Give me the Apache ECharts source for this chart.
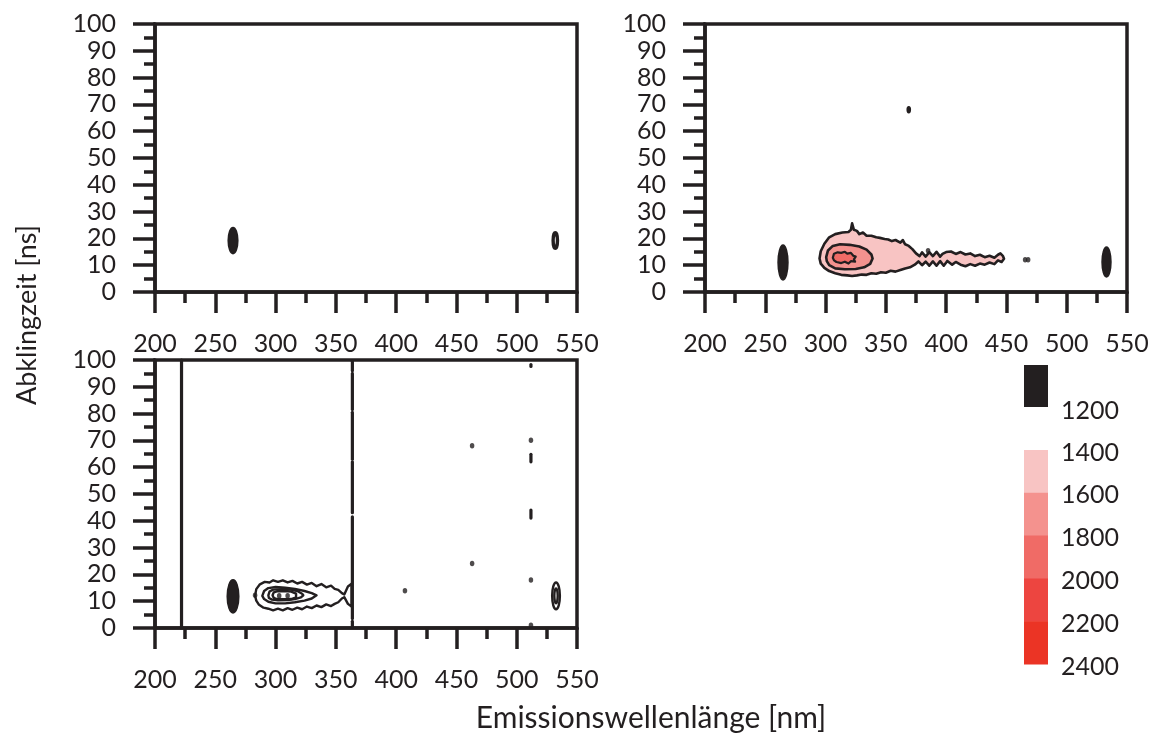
<!DOCTYPE html>
<html>
<head>
<meta charset="utf-8">
<script src="https://cdn.jsdelivr.net/npm/echarts@6/dist/echarts.min.js"></script>
<style>
  html, body { margin: 0; padding: 0; background: #ffffff; }
  #chart { width: 1157px; height: 736px; }
</style>
</head>
<body>
<div id="chart"></div>
<script>
// ---- axes -------------------------------------------------------------
const wavelengthTicks = [200, 250, 300, 350, 400, 450, 500, 550];
const decayTicks = [0, 10, 20, 30, 40, 50, 60, 70, 80, 90, 100];

// ---- intensity levels shown in the key ---------------------------------
const levelLabels = [1200, 1400, 1600, 1800, 2000, 2200, 2400];
const levelColors = ['#231f20', '#f8c4c3', '#f4928e', '#f06b66', '#ed4540', '#eb3425'];

// ---- panel A (top left) ------------------------------------------------
// [wavelength nm, decay ns, half width nm, half height ns]
const spotsA = [[264.7, 19.2, 4.0, 4.9]];
const ringsA = [[532.0, 19.2, 1.8, 2.9]];

// ---- panel B (top right) -----------------------------------------------
const spotsB = [[264.7, 11.0, 4.1, 6.5], [533.0, 11.2, 3.7, 5.6], [369.0, 68.0, 1.3, 1.1]];
const dotsB = [[385.0, 15.4], [465.5, 12.0], [468.0, 12.0]];
// 1400 contour (outer band)
const bandB1400 = [
  [295, 12.5], [296, 15.2], [299, 18.0], [303, 20.4], [308, 21.6], [314, 22.2], [319, 22.4],
  [321, 23.2], [322, 25.6], [323.5, 23.2], [326, 22.8], [328, 21.6], [331, 22.2], [334, 21.0],
  [338, 21.0], [342, 20.4], [345, 20.2], [349, 19.8], [352, 19.6], [355, 19.0], [358, 19.4],
  [362, 18.4], [364, 19.4], [366, 17.8], [369, 17.2], [372, 16.0], [375, 14.4], [378, 13.4],
  [380, 14.8], [383, 13.2], [386, 14.9], [389, 13.4], [392, 15.0], [395, 13.2], [397, 14.2],
  [400, 14.9], [404, 15.1], [408, 14.2], [412, 14.9], [416, 14.0], [420, 14.4], [424, 13.4],
  [428, 13.9], [432, 13.0], [436, 13.5], [440, 12.8], [443, 13.9], [445, 14.4], [447, 13.5],
  [448, 12.4], [446, 11.2], [443, 11.8], [440, 10.4], [436, 11.0], [432, 10.2], [428, 10.6],
  [424, 9.8], [420, 10.4], [416, 9.6], [412, 10.2], [408, 11.2], [405, 10.2], [401, 11.6],
  [398, 9.8], [395, 11.5], [392, 9.8], [389, 11.4], [386, 9.8], [383, 11.3], [380, 10.0],
  [377, 11.4], [374, 10.2], [370, 9.2], [366, 8.8], [362, 8.2], [358, 7.6], [354, 7.9],
  [350, 7.2], [346, 7.4], [342, 6.8], [338, 7.0], [334, 6.4], [330, 6.5], [326, 6.2],
  [322, 6.0], [318, 6.2], [313, 6.4], [308, 7.0], [303, 7.8], [299, 9.0], [296, 10.6]
];
// 1600 contour
const bandB1600 = [
  [300.5, 13.0], [302, 15.5], [306, 17.2], [312, 17.8], [320, 17.6], [328, 17.0], [334, 15.8],
  [338, 14.0], [339, 12.5], [337, 10.5], [332, 9.2], [325, 8.6], [316, 8.5], [308, 8.8],
  [303, 10.0], [301, 11.5]
];
// 1800 contour
const bandB1800 = [
  [306, 12.8], [307, 14.3], [310, 14.8], [313, 14.6], [316, 15.0], [318, 14.3], [321, 14.6],
  [323, 13.5], [325, 13.2], [323.5, 12.2], [324.5, 11.3], [321, 11.5], [319, 10.6], [316, 11.3],
  [313, 10.8], [309, 11.2], [307, 11.8]
];

// ---- panel C (bottom left) ---------------------------------------------
const spotsC = [[264.7, 11.8, 4.8, 6.2]];
const ringsC = [[532.6, 12.0, 3.2, 5.0], [532.6, 12.0, 1.4, 2.8]];
const dotsC = [
  [303, 12.0], [310, 12.0], [283, 12.2], [407.3, 13.9], [463, 68.0], [463, 24.1],
  [511.8, 70.1], [511.8, 17.9], [511.8, 1.0]
];
// vertical streaks: [wavelength nm, decay from, decay to]
const streaksC = [
  [222.0, 0, 100],
  [363.7, 0.5, 2.5], [363.7, 3.5, 41.5], [363.7, 43, 62], [363.7, 63, 80.5],
  [363.7, 81.5, 95], [363.7, 96, 99.5],
  [511.8, 97.6, 98.3], [511.8, 62.0, 64.8], [511.8, 41.0, 44.0]
];
const lineC1 = [
  [283, 12.0], [284, 14.5], [287, 16.3], [291, 17.2], [295, 17.0], [298, 17.8], [302, 17.2],
  [306, 17.8], [310, 17.0], [314, 17.6], [318, 16.6], [322, 17.2], [326, 16.2], [330, 16.8],
  [334, 15.6], [338, 16.4], [342, 15.2], [346, 15.8], [349, 14.6], [352, 14.2], [355, 13.0],
  [357, 12.5], [360, 15.5], [363, 16.5], [363, 8.0], [360, 9.0], [357, 11.5], [355, 11.0],
  [352, 9.6], [349, 9.0], [346, 8.2], [342, 8.8], [338, 7.8], [334, 8.4], [330, 7.4],
  [326, 8.0], [322, 7.0], [318, 7.6], [314, 6.8], [310, 7.4], [306, 6.6], [302, 7.2],
  [298, 6.6], [294, 7.2], [290, 7.6], [286, 8.8], [284, 10.2]
];
const lineC2 = [
  [289, 12.0], [290.5, 13.8], [294, 14.9], [300, 15.3], [308, 15.0], [316, 14.6], [324, 13.8],
  [330, 13.0], [334, 12.2], [330, 11.0], [324, 10.2], [316, 9.6], [308, 9.2], [300, 9.2],
  [294, 9.8], [290.5, 10.8]
];
const lineC3 = [
  [294, 12.2], [295, 13.6], [298, 14.3], [305, 14.5], [312, 14.4], [318, 13.8], [322, 12.8],
  [323, 12.2], [321, 11.4], [316, 10.8], [310, 10.4], [302, 10.3], [297, 10.6], [294.5, 11.2]
];
const lineC4 = [
  [297.5, 12.2], [298.5, 13.3], [301, 13.7], [307, 13.8], [313, 13.6], [317, 12.8], [317, 11.4],
  [313, 10.8], [307, 10.7], [301, 10.8], [298.5, 11.2]
];

// ---- drawing helpers ---------------------------------------------------
const INK = '#231f20';
const FONT = 'Lato';
const LABEL_SIZE = 25;

function xAxisFor(gridIndex) {
  return {
    gridIndex, type: 'value',
    min: wavelengthTicks[0], max: wavelengthTicks[wavelengthTicks.length - 1],
    interval: wavelengthTicks[1] - wavelengthTicks[0],
    axisLine: { show: true, onZero: false, lineStyle: { color: INK, width: 3.5 } },
    axisTick: { show: true, length: 21, lineStyle: { color: INK, width: 3.5 } },
    minorTick: { show: true, splitNumber: 2, length: 11, lineStyle: { color: INK, width: 3.5 } },
    splitLine: { show: false },
    axisLabel: { margin: 39, color: INK, fontSize: LABEL_SIZE, fontFamily: FONT }
  };
}
function yAxisFor(gridIndex) {
  return {
    gridIndex, type: 'value',
    min: decayTicks[0], max: decayTicks[decayTicks.length - 1],
    interval: decayTicks[1] - decayTicks[0],
    axisLine: { show: true, onZero: false, lineStyle: { color: INK, width: 3.5 } },
    axisTick: { show: true, length: 22, lineStyle: { color: INK, width: 3.5 } },
    minorTick: { show: true, splitNumber: 2, length: 11, lineStyle: { color: INK, width: 3.5 } },
    splitLine: { show: false },
    axisLabel: { margin: 39, color: INK, fontSize: LABEL_SIZE, fontFamily: FONT }
  };
}

// one filled / outlined contour polygon
function contourSeries(gridIndex, points, fill, width) {
  return {
    type: 'custom', xAxisIndex: gridIndex, yAxisIndex: gridIndex,
    data: [[points[0][0], points[0][1]]],
    silent: true, z: 3,
    renderItem: function (params, api) {
      return {
        type: 'polygon',
        shape: { points: points.map(p => api.coord(p)) },
        style: { fill: fill, stroke: INK, lineWidth: width, lineJoin: 'round' }
      };
    }
  };
}

// elliptical spots: filled solid or drawn as rings
function spotSeries(gridIndex, spots, filled, width) {
  return {
    type: 'custom', xAxisIndex: gridIndex, yAxisIndex: gridIndex,
    data: spots, encode: { x: 0, y: 1 }, silent: true, z: 4,
    renderItem: function (params, api) {
      const c = api.coord([api.value(0), api.value(1)]);
      const s = api.size([api.value(2), api.value(3)]);
      return {
        type: 'ellipse',
        shape: { cx: c[0], cy: c[1], rx: s[0], ry: s[1] },
        style: { fill: filled ? INK : 'rgba(0,0,0,0)', stroke: INK, lineWidth: width }
      };
    }
  };
}

function dotSeries(gridIndex, dots) {
  return {
    type: 'scatter', xAxisIndex: gridIndex, yAxisIndex: gridIndex,
    data: dots, symbol: 'circle', symbolSize: [4.5, 5.5], silent: true, z: 4,
    itemStyle: { color: INK }
  };
}

function streakSeries(gridIndex, streaks) {
  return {
    type: 'custom', xAxisIndex: gridIndex, yAxisIndex: gridIndex,
    data: streaks, encode: { x: 0, y: [1, 2] }, silent: true, z: 4,
    renderItem: function (params, api) {
      const a = api.coord([api.value(0), api.value(1)]);
      const b = api.coord([api.value(0), api.value(2)]);
      return {
        type: 'line',
        shape: { x1: a[0], y1: a[1], x2: b[0], y2: b[1] },
        style: { stroke: INK, lineWidth: 3.2, lineCap: 'round' }
      };
    }
  };
}

// ---- key: colour blocks with level labels at the block edges ----------
function keyGraphics() {
  const els = [];
  const x = 1024, w = 24, labelX = 1061;
  // black block for the lowest level
  els.push({ type: 'rect', shape: { x: x, y: 365, width: w, height: 42 }, style: { fill: levelColors[0] } });
  els.push({ type: 'text', left: labelX, top: 411 - 13,
    style: { text: String(levelLabels[0]), fill: INK, font: LABEL_SIZE + 'px ' + FONT } });
  const top0 = 450, h = 42.8;
  for (let i = 1; i < levelColors.length; i++) {
    els.push({ type: 'rect', shape: { x: x, y: top0 + (i - 1) * h, width: w, height: h + 0.5 },
      style: { fill: levelColors[i] } });
  }
  for (let i = 1; i < levelLabels.length; i++) {
    els.push({ type: 'text', left: labelX, top: top0 + (i - 1) * h + 3 - 13,
      style: { text: String(levelLabels[i]), fill: INK, font: LABEL_SIZE + 'px ' + FONT } });
  }
  return els;
}

const chart = echarts.init(document.getElementById('chart'), null, { renderer: 'canvas' });
const gridStyle = { show: true, borderColor: INK, borderWidth: 3.5, backgroundColor: 'rgba(0,0,0,0)', containLabel: false };

chart.setOption({
  backgroundColor: '#ffffff',
  animation: false,
  grid: [
    Object.assign({ left: 155, top: 24, width: 422, height: 268 }, gridStyle),
    Object.assign({ left: 705, top: 24, width: 422, height: 268 }, gridStyle),
    Object.assign({ left: 155, top: 360, width: 422, height: 268 }, gridStyle)
  ],
  xAxis: [xAxisFor(0), xAxisFor(1), xAxisFor(2)],
  yAxis: [yAxisFor(0), yAxisFor(1), yAxisFor(2)],
  series: [
    // panel A
    spotSeries(0, spotsA, true, 1.5),
    spotSeries(0, ringsA, false, 3.4),
    // panel B
    contourSeries(1, bandB1400, levelColors[1], 2.6),
    contourSeries(1, bandB1600, levelColors[2], 2.6),
    contourSeries(1, bandB1800, levelColors[3], 2.2),
    spotSeries(1, spotsB, true, 1.5),
    dotSeries(1, dotsB),
    // panel C
    contourSeries(2, lineC1, 'rgba(0,0,0,0)', 2.4),
    contourSeries(2, lineC2, 'rgba(0,0,0,0)', 2.4),
    contourSeries(2, lineC3, 'rgba(0,0,0,0)', 2.4),
    contourSeries(2, lineC4, 'rgba(0,0,0,0)', 2.4),
    spotSeries(2, spotsC, true, 1.5),
    spotSeries(2, ringsC, false, 2.4),
    streakSeries(2, streaksC),
    dotSeries(2, dotsC)
  ],
  graphic: [
    {
      type: 'text', x: 27, y: 315, rotation: Math.PI / 2,
      style: { text: 'Abklingzeit [ns]', fill: INK, font: '27px ' + FONT, align: 'center', verticalAlign: 'middle' }
    },
    {
      type: 'text', x: 651, y: 718,
      style: { text: 'Emissionswellenlänge [nm]', fill: INK, font: '30px ' + FONT, align: 'center', verticalAlign: 'middle' }
    }
  ].concat(keyGraphics())
});
</script>
</body>
</html>
